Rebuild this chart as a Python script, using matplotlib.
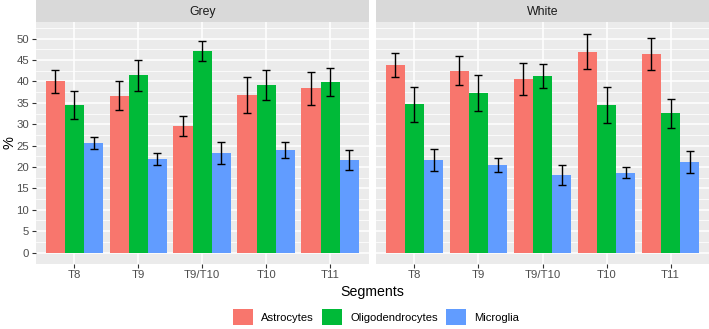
import numpy as np
import matplotlib.pyplot as plt

plt.rcParams['font.family'] = ['Liberation Sans', 'DejaVu Sans']

segments = ['T8', 'T9', 'T9/T10', 'T10', 'T11']
cell_types = ['Astrocytes', 'Oligodendrocytes', 'Microglia']
colors = ['#F8766D', '#00BA38', '#619CFF']

# mean values per cell type, one list per tissue
grey_means = [
    [40.0, 36.7, 29.6, 36.9, 38.4],
    [34.5, 41.4, 47.1, 39.1, 39.9],
    [25.6, 21.9, 23.3, 24.0, 21.7],
]
grey_err = [
    [2.6, 3.4, 2.4, 4.2, 3.9],
    [3.3, 3.7, 2.3, 3.5, 3.2],
    [1.4, 1.4, 2.5, 1.9, 2.3],
]
white_means = [
    [43.8, 42.5, 40.6, 47.0, 46.4],
    [34.7, 37.2, 41.3, 34.4, 32.6],
    [21.6, 20.4, 18.2, 18.7, 21.1],
]
white_err = [
    [2.8, 3.4, 3.7, 4.2, 3.8],
    [4.1, 4.2, 2.8, 4.2, 3.4],
    [2.6, 1.6, 2.3, 1.2, 2.6],
]

W, H = 709, 329
fig = plt.figure(figsize=(W / 100, H / 100), dpi=100)


def px_axes(x0, y0, x1, y1):
    return fig.add_axes([x0 / W, 1 - y1 / H, (x1 - x0) / W, (y1 - y0) / H])


def draw_panel(x0, x1, title, means, errs, show_y):
    ax = px_axes(x0, 22, x1, 263.5)
    ax.set_facecolor('#EBEBEB')
    for s in ax.spines.values():
        s.set_visible(False)
    x = np.arange(1, len(segments) + 1)
    ax.set_xlim(0.4, 5.6)
    ax.set_ylim(-2.57, 53.9)
    ax.set_yticks(np.arange(0, 51, 5))
    ax.set_yticks(np.arange(2.5, 53, 5), minor=True)
    ax.grid(True, which='major', axis='both', color='white', lw=1.1)
    ax.grid(True, which='minor', axis='y', color='white', lw=0.55)
    ax.set_axisbelow(True)
    for i in range(3):
        pos = x + (i - 1) * 0.3
        ax.bar(pos, means[i], width=0.3, color=colors[i], label=cell_types[i], zorder=2)
        ax.errorbar(pos, means[i], yerr=errs[i], fmt='none', ecolor='black',
                    elinewidth=1.0, capsize=3.2, capthick=1.0, zorder=3)
    ax.set_xticks(x)
    ax.set_xticklabels(segments)
    ax.tick_params(axis='x', colors='#333333', labelcolor='#4D4D4D', labelsize=8.2,
                   length=3, width=0.8, pad=2)
    ax.tick_params(which='minor', length=0)
    if show_y:
        ax.tick_params(axis='y', colors='#333333', labelcolor='#4D4D4D', labelsize=8.2,
                       length=3, width=0.8, pad=2)
    else:
        ax.tick_params(axis='y', left=False, labelleft=False)

    strip = px_axes(x0, 0, x1, 22)
    strip.set_facecolor('#D9D9D9')
    strip.set_xticks([])
    strip.set_yticks([])
    for s in strip.spines.values():
        s.set_visible(False)
    strip.text(0.5, 0.45, title, ha='center', va='center', fontsize=8.8, color='#1A1A1A',
               transform=strip.transAxes)
    return ax


ax1 = draw_panel(36, 368.5, 'Grey', grey_means, grey_err, True)
ax2 = draw_panel(376, 709, 'White', white_means, white_err, False)

fig.text(9 / W, 1 - 143 / H, '%', rotation=90, ha='center', va='center', fontsize=10.5, color='black')
fig.text(372 / W, 1 - 292 / H, 'Segments', ha='center', va='center', fontsize=10.2, color='black')

handles, labels = ax1.get_legend_handles_labels()
fig.legend(handles, labels, loc='center', bbox_to_anchor=(376 / W, 1 - 317 / H), ncol=3,
           frameon=False, fontsize=8.1, handlelength=1.78, handleheight=1.78,
           handletextpad=0.71, columnspacing=0.75, borderpad=0)

fig.savefig('out.png', dpi=100)
